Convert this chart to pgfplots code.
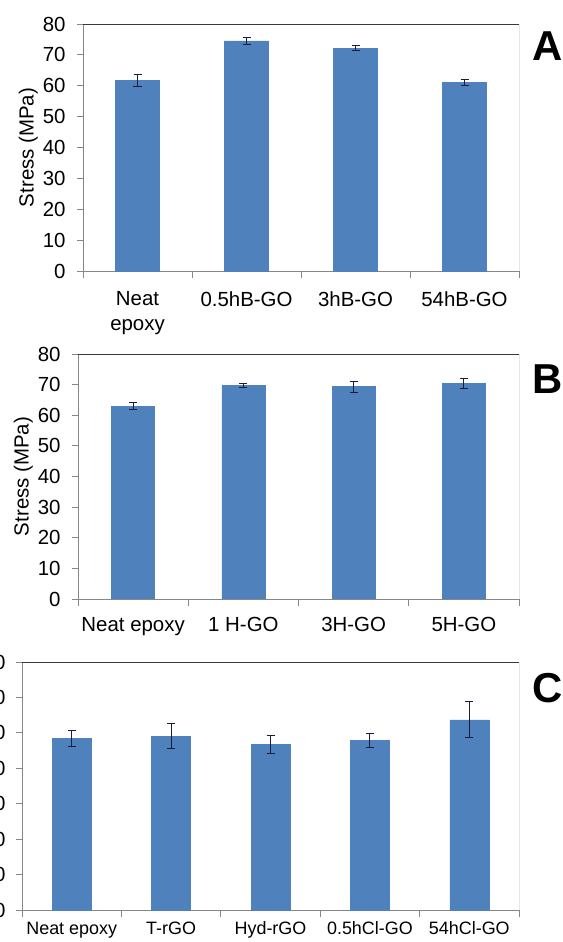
\documentclass[border=0pt]{standalone}
\usepackage{fontspec}
\setmainfont{Liberation Sans}
\usepackage{pgfplots}
\pgfplotsset{compat=1.18}
\definecolor{barblue}{HTML}{4F81BD}
\definecolor{axgray}{HTML}{868686}
\definecolor{errc}{HTML}{1C1C38}
\definecolor{boxc}{HTML}{3A3A3A}

\pgfplotsset{
  panel/.style={
    scale only axis,
    ybar, bar width=44bp,
    ymin=0, ymax=80, ytick={0,10,...,80},
    xmin=-0.5, xmax=3.5,
    axis x line*=bottom, axis y line*=left,
    axis line style={axgray, line width=0.9pt, -},
    xtick=data,
    major x tick style={draw=none},
    minor xtick={-0.5,0.5,1.5,2.5,3.5},
    minor x tick style={axgray, line width=0.9pt},
    minor tick length=7bp,
    major tick length=6bp,
    tick align=outside,
    ytick style={axgray, line width=0.9pt},
    tick label style={font=\fontsize{20.5}{25}\selectfont, text=black},
    yticklabel style={xshift=-8bp},
    xticklabel style={yshift=-11bp},
    /pgf/number format/assume math mode=true,
    label style={font=\fontsize{20.5}{25}\selectfont},
    ylabel={Stress (MPa)},
    ylabel style={yshift=-2bp},
    error bars/y dir=both, error bars/y explicit,
    error bars/error mark options={rotate=90, mark size=4bp, line width=0.9pt, draw=errc},
    error bars/error bar style={line width=0.9pt, draw=errc, solid},
  }
}

\begin{document}
\begin{tikzpicture}
\begin{scope}[overlay]
% ---------------- Panel A ----------------
\begin{axis}[panel,
  at={(83bp,-24bp)}, anchor=north west,
  width=436bp, height=247bp,
  xticklabels={{Neat\\epoxy},0.5hB-GO,3hB-GO,54hB-GO},
  xticklabel style={align=center},
]
\addplot[fill=barblue, draw=barblue] coordinates {
  (0,61.7) +- (0,2.0)
  (1,74.5) +- (0,1.0)
  (2,72.2) +- (0,0.85)
  (3,61.0) +- (0,0.95)
};
\draw[boxc, line width=1pt] (rel axis cs:0,1) -- (rel axis cs:1,1) -- (rel axis cs:1,0);
\end{axis}
\node[font=\bfseries\fontsize{42}{42}\selectfont, anchor=base west, inner sep=0pt] at (532bp,-60bp) {A};

% ---------------- Panel B ----------------
\begin{axis}[panel,
  at={(78bp,-354bp)}, anchor=north west,
  width=441bp, height=245bp, bar width=43bp,
  xticklabels={Neat epoxy,1 H-GO,3H-GO,5H-GO},
  xticklabel style={text height=0.72em, text depth=0.22em, yshift=-5bp},
]
\addplot[fill=barblue, draw=barblue] coordinates {
  (0,63.0) +- (0,1.1)
  (1,69.75) +- (0,0.7)
  (2,69.4) +- (0,1.8)
  (3,70.4) +- (0,1.5)
};
\draw[boxc, line width=1pt] (rel axis cs:0,1) -- (rel axis cs:1,1) -- (rel axis cs:1,0);
\end{axis}
\node[font=\bfseries\fontsize{42}{42}\selectfont, anchor=base west, inner sep=0pt] at (532bp,-393bp) {B};

% ---------------- Panel C ----------------
\begin{axis}[panel,
  at={(22bp,-662bp)}, anchor=north west,
  width=497bp, height=248bp, bar width=39bp,
  ymin=0, ymax=70, ytick={0,10,...,70},
  xmin=-0.5, xmax=4.5,
  minor xtick={-0.5,0.5,1.5,2.5,3.5,4.5},
  xticklabels={Neat epoxy,T-rGO,Hyd-rGO,0.5hCl-GO,54hCl-GO},
  xticklabel style={font=\fontsize{18}{22}\selectfont, yshift=3.5bp, text height=0.72em, text depth=0.22em},
  yticklabel style={xshift=1bp},
]
\addplot[fill=barblue, draw=barblue] coordinates {
  (0,48.5) +- (0,2.25)
  (1,49.1) +- (0,3.6)
  (2,46.8) +- (0,2.5)
  (3,47.9) +- (0,1.9)
  (4,53.7) +- (0,5.1)
};
\draw[boxc, line width=1pt] (rel axis cs:0,1) -- (rel axis cs:1,1) -- (rel axis cs:1,0);
\end{axis}
\node[font=\bfseries\fontsize{42}{42}\selectfont, anchor=base west, inner sep=0pt] at (532bp,-702bp) {C};
\end{scope}
\path (0bp,0bp) rectangle (563bp,-942bp);
\end{tikzpicture}
\end{document}
